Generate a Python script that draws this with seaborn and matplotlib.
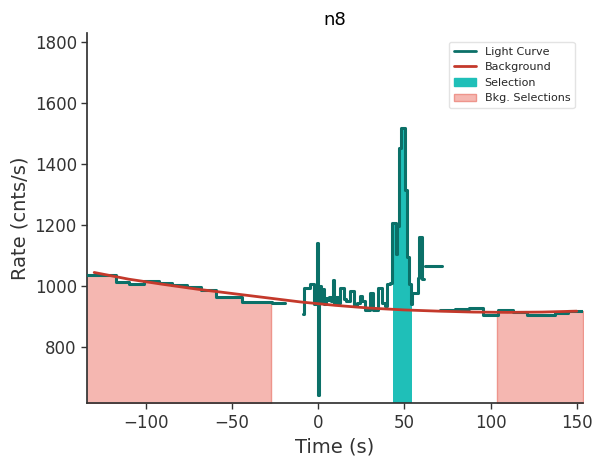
import numpy as np
import pandas as pd
import matplotlib
matplotlib.use("Agg")
import matplotlib.pyplot as plt
import seaborn as sns
from matplotlib.patches import Patch
from matplotlib.lines import Line2D

# ---------------- data ----------------
# light curve pieces: bin start times, rates, and end time of the piece
lc1_t = [-136.0, -117.5, -109.8, -101.0, -92.4, -84.7, -76.0, -68.3, -59.6, -44.2, -35.5, -26.8]
lc1_r = [1036, 1014, 1005, 1016, 1011, 1003, 995, 987, 965, 947, 948, 943]
lc1_end = -19.1

lc2_t = [-8.7, -8.1, -4.6, -2.7, -0.6, -0.1, 0.4, 1.4, 2.4, 3.4, 4.4, 5.4, 6.4, 7.4, 8.4,
         9.4, 10.4, 11.4, 12.7, 14.7, 16.2, 18.5, 20.8, 22.4, 24.3, 25.5, 27.2, 30.1,
         32.0, 34.9, 36.8, 38.5, 39.7, 41.7, 43.0, 45.2, 45.6, 46.9, 48.0, 50.4, 51.6,
         52.8, 53.7, 54.7, 57.7, 58.5, 60.0]
lc2_r = [907, 994, 1005, 940, 1140, 642, 1000, 945, 990, 940, 960, 955, 962, 950, 1020,
         940, 965, 945, 994, 956, 950, 983, 934, 945, 967, 950, 922, 978,
         922, 994, 945, 935, 1005, 1010, 1205, 1105, 1195, 1452, 1518, 1315, 1094,
         1005, 940, 978, 1027, 1159, 1023]
lc2_end = 61.6

lc3_t = [62.0]
lc3_r = [1066]
lc3_end = 71.8

lc4_t = [70.6, 79.3, 87.6, 95.8, 104.3, 113.0, 121.0, 137.5, 145.0]
lc4_r = [922, 925, 928, 904, 920, 914, 906, 912, 919]
lc4_end = 153.5

# background model (read at regular times)
bkg_t = [-130, -110, -90, -70, -50, -30, -10, 10, 30, 50, 70, 90, 110, 130, 150]
bkg_r = [1044, 1022, 1005, 989, 975, 961, 947, 936, 927, 921, 917, 914, 913, 914, 917]

# selections
src_sel = (43.2, 54.2)
bkg_sels = [(-136.0, -27.2), (104.0, 153.5)]

# ---------------- style ----------------
LC_COLOR = "#0b7068"
BKG_COLOR = "#c4392b"
SEL_COLOR = "#1fbfb8"
BSEL_COLOR = "#f5b7b1"
BSEL_EDGE = "#ee958c"

sns.set_theme(style="ticks")
plt.rcParams["font.family"] = ["DejaVu Sans"]

fig = plt.figure(figsize=(6.02, 4.65), dpi=100)
ax = fig.add_axes([0.145, 0.133, 0.823, 0.796])

YMIN, YMAX = 615, 1830

pieces = [(lc1_t, lc1_r, lc1_end), (lc2_t, lc2_r, lc2_end),
          (lc3_t, lc3_r, lc3_end), (lc4_t, lc4_r, lc4_end)]


def step_xy(t, r, end):
    x = np.array(list(t) + [end], dtype=float)
    y = np.array(list(r) + [r[-1]], dtype=float)
    return x, y


def clipped_step(t, r, end, a, b):
    x, y = step_xy(t, r, end)
    xs, ys = [], []
    for i in range(len(x) - 1):
        lo, hi = max(x[i], a), min(x[i + 1], b)
        if hi > lo:
            xs += [lo, hi]
            ys += [y[i], y[i]]
    return np.array(xs), np.array(ys)


# background selections fill
for (a, b) in bkg_sels:
    for (t, r, end) in pieces:
        xs, ys = clipped_step(t, r, end, a, b)
        if len(xs):
            ax.fill_between(xs, YMIN, ys, color=BSEL_COLOR, edgecolor=BSEL_EDGE,
                            lw=1.0, zorder=1)

# source selection fill
for (t, r, end) in pieces:
    xs, ys = clipped_step(t, r, end, *src_sel)
    if len(xs):
        ax.fill_between(xs, YMIN, ys, color=SEL_COLOR, lw=0, zorder=2)

# light curve
for (t, r, end) in pieces:
    x, y = step_xy(t, r, end)
    df = pd.DataFrame({"time": x, "rate": y})
    sns.lineplot(data=df, x="time", y="rate", ax=ax, color=LC_COLOR, lw=2.2,
                 drawstyle="steps-post", sort=False, estimator=None, zorder=3)

# background
dfb = pd.DataFrame({"time": bkg_t, "rate": bkg_r})
sns.lineplot(data=dfb, x="time", y="rate", ax=ax, color=BKG_COLOR, lw=2.0,
             sort=False, estimator=None, zorder=4)

ax.set_xlim(-134, 153.5)
ax.set_ylim(YMIN, YMAX)
ax.set_xticks([-100, -50, 0, 50, 100, 150])
ax.set_yticks([800, 1000, 1200, 1400, 1600, 1800])
ax.tick_params(labelsize=12, length=4, width=1, colors="#333333")
ax.set_xlabel("Time (s)", fontsize=14, color="#333333")
ax.set_ylabel("Rate (cnts/s)", fontsize=14, color="#333333")
ax.set_title("n8", fontsize=13, color="black")
sns.despine(ax=ax)
for s in ["left", "bottom"]:
    ax.spines[s].set_color("#333333")

handles = [Line2D([], [], color=LC_COLOR, lw=2),
           Line2D([], [], color=BKG_COLOR, lw=2),
           Patch(facecolor=SEL_COLOR, edgecolor=SEL_COLOR),
           Patch(facecolor=BSEL_COLOR, edgecolor=BSEL_EDGE)]
labels = ["Light Curve", "Background", "Selection", "Bkg. Selections"]
ax.legend(handles, labels, loc="upper right", fontsize=8, frameon=True,
          framealpha=0.8, edgecolor="#dddddd", bbox_to_anchor=(0.995, 0.99))

fig.savefig("out.png", dpi=100)
